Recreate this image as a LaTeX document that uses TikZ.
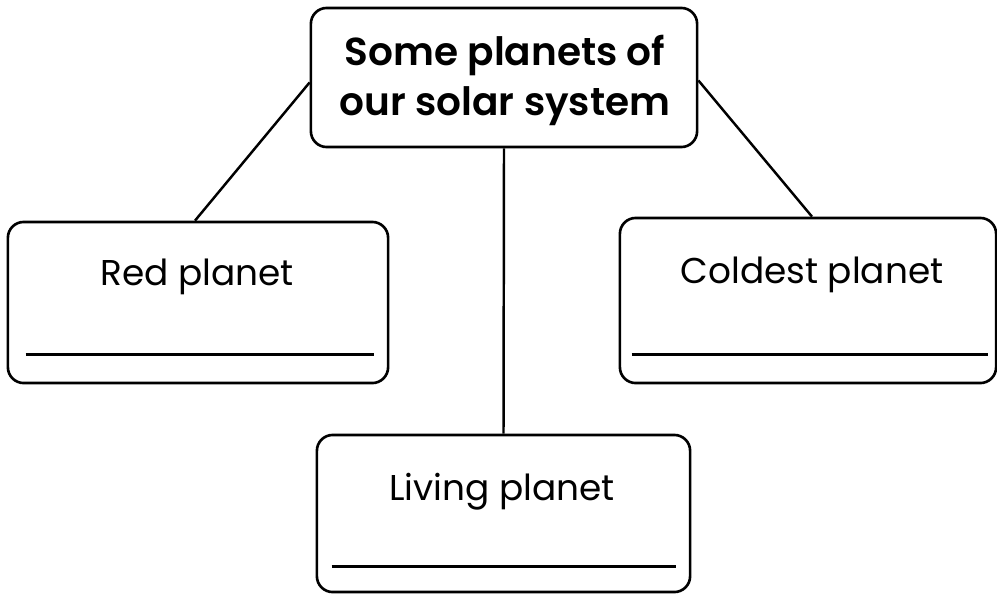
\documentclass[tikz,border=0pt]{standalone}
\usepackage{fontspec}
\setmainfont{Poppins}[BoldFont={Poppins SemiBold}]
\tikzset{
  card/.style={draw, line width=0.75pt, rounded corners=4.5pt, inner sep=0pt},
  caption/.style={anchor=base, inner sep=0pt, font=\fontsize{10.2}{12}\selectfont},
  heading/.style={anchor=base, inner sep=0pt, font=\fontsize{11.1}{14}\selectfont\bfseries},
  blank/.style={line width=0.75pt},
  link/.style={line width=0.7pt}
}
\begin{document}
\begin{tikzpicture}[x=0.01cm,y=-0.01cm]
    \useasboundingbox (0,0) rectangle (997,594);

    % Title card
    \node[card, minimum width=3.86cm, minimum height=1.39cm] (sys) at (504,77.5) {};
    \node[heading] (sysa) at (505,65) {Some planets of};
    \node[heading] (sysb) at (505,115) {our solar system};

    % Red planet
    \node[card, minimum width=3.80cm, minimum height=1.61cm] (red) at (198,302.5) {};
    \node[caption] (redtxt) at (197,285) {Red planet};
    \draw[blank] ([xshift=0.19cm,yshift=0.30cm]red.south west) -- ([xshift=-0.15cm,yshift=0.30cm]red.south east);

    % Coldest planet
    \node[card, minimum width=3.76cm, minimum height=1.65cm] (cold) at (808,300.5) {};
    \node[caption] (coldtxt) at (812,283) {Coldest planet};
    \draw[blank] ([xshift=0.13cm,yshift=0.30cm]cold.south west) -- ([xshift=-0.09cm,yshift=0.30cm]cold.south east);

    % Living planet
    \node[card, minimum width=3.73cm, minimum height=1.57cm] (live) at (503.5,513.5) {};
    \node[caption] (livetxt) at (502,500) {Living planet};
    \draw[blank] ([xshift=0.16cm,yshift=0.27cm]live.south west) -- ([xshift=-0.15cm,yshift=0.27cm]live.south east);

    % connectors
    \draw[link] ([yshift=-0.05cm]sys.west) -- ([xshift=-0.03cm]red.north);
    \draw[link] ([yshift=-0.03cm]sys.east) -- ([xshift=0.04cm]cold.north);
    \draw[link] (sys.south) -- (live.north);
\end{tikzpicture}
\end{document}
